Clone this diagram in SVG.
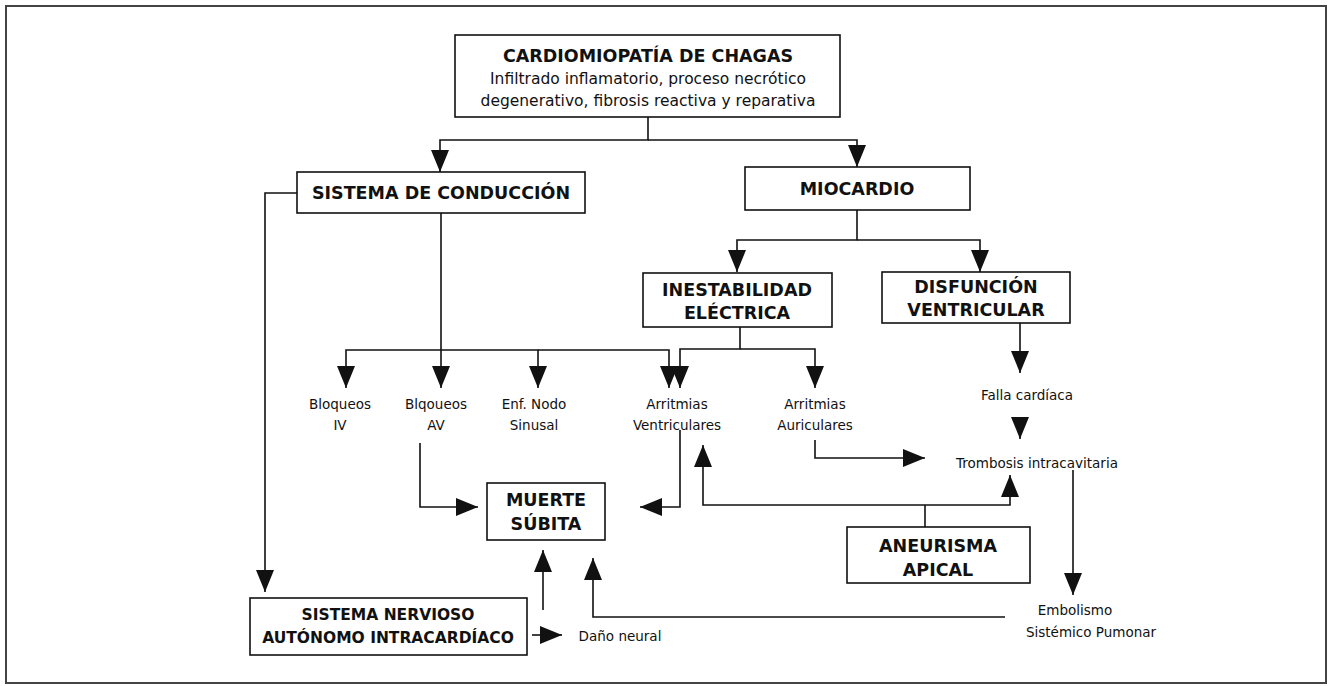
<svg xmlns="http://www.w3.org/2000/svg" width="1330" height="686" viewBox="0 0 1330 686">
<style>
.box{fill:#fff;stroke:#111;stroke-width:1.6}
.t{font-family:"Comic Sans MS","DejaVu Sans",sans-serif;font-weight:bold;font-size:17.5px;fill:#111;text-anchor:middle}
.t2{font-family:"Comic Sans MS","DejaVu Sans",sans-serif;font-weight:bold;font-size:15.5px;fill:#111;text-anchor:middle}
.s{font-family:"Comic Sans MS","DejaVu Sans",sans-serif;font-size:13.5px;fill:#111;text-anchor:middle}
.m{font-family:"Comic Sans MS","DejaVu Sans",sans-serif;font-size:15.5px;fill:#111;text-anchor:middle}
.c{fill:none;stroke:#111;stroke-width:1.6}
</style>
<defs>
<marker id="ah" markerUnits="userSpaceOnUse" markerWidth="22" markerHeight="18" refX="22" refY="9" orient="auto">
<path d="M0,0 L22,9 L0,18 z" fill="#111"/>
</marker>
</defs>
<rect x="0" y="0" width="1330" height="686" fill="#fff"/>
<rect x="6" y="6" width="1320" height="677" fill="none" stroke="#444" stroke-width="2"/>
<g id="connectors">
<path class="c" d="M648,117 V140 H440 V172" marker-end="url(#ah)"/>
<path class="c" d="M648,140 H857 V167" marker-end="url(#ah)"/>
<path class="c" d="M297,193 H265 V592" marker-end="url(#ah)"/>
<path class="c" d="M441,213 V388" marker-end="url(#ah)"/>
<path class="c" d="M857,210 V240 H737 V272" marker-end="url(#ah)"/>
<path class="c" d="M857,240 H980 V272" marker-end="url(#ah)"/>
<path class="c" d="M441,350 H346 V388" marker-end="url(#ah)"/>
<path class="c" d="M441,350 H538 V388" marker-end="url(#ah)"/>
<path class="c" d="M538,350 H669 V388" marker-end="url(#ah)"/>
<path class="c" d="M740,327 V349 H680 V388" marker-end="url(#ah)"/>
<path class="c" d="M740,349 H815 V388" marker-end="url(#ah)"/>
<path class="c" d="M1020,323 V373" marker-end="url(#ah)"/>
<path class="c" d="M1020,417 V439" marker-end="url(#ah)"/>
<path class="c" d="M815,440 V458 H925" marker-end="url(#ah)"/>
<path class="c" d="M1073,470 V595" marker-end="url(#ah)"/>
<path class="c" d="M420,443 V507 H478" marker-end="url(#ah)"/>
<path class="c" d="M680,430 V507 H640" marker-end="url(#ah)"/>
<path class="c" d="M925,527 V505"/>
<path class="c" d="M925,505 H703 V445" marker-end="url(#ah)"/>
<path class="c" d="M925,505 H1010 V475" marker-end="url(#ah)"/>
<path class="c" d="M543,610 V550" marker-end="url(#ah)"/>
<path class="c" d="M1005,617 H593 V558" marker-end="url(#ah)"/>
<path class="c" d="M532,635 H562" marker-end="url(#ah)"/>
</g>
<g id="n-chagas">
<rect class="box" x="455" y="35" width="385" height="82"/>
<text class="t" x="648" y="62">CARDIOMIOPATÍA DE CHAGAS</text>
<text class="m" x="648" y="84">Infiltrado inflamatorio, proceso necrótico</text>
<text class="m" x="648" y="106">degenerativo, fibrosis reactiva y reparativa</text>
</g>
<g id="n-conduccion">
<rect class="box" x="297" y="172" width="288" height="41"/>
<text class="t" x="441" y="199">SISTEMA DE CONDUCCIÓN</text>
</g>
<g id="n-miocardio">
<rect class="box" x="745" y="167" width="225" height="43"/>
<text class="t" x="857" y="195">MIOCARDIO</text>
</g>
<g id="n-inestabilidad">
<rect class="box" x="643" y="273" width="189" height="54"/>
<text class="t" x="737" y="296">INESTABILIDAD</text>
<text class="t" x="737" y="319">ELÉCTRICA</text>
</g>
<g id="n-disfuncion">
<rect class="box" x="882" y="272" width="188" height="51"/>
<text class="t" x="976" y="293">DISFUNCIÓN</text>
<text class="t" x="976" y="316">VENTRICULAR</text>
</g>
<g id="n-bloqueos-iv">
<text class="s" x="340" y="409">Bloqueos</text>
<text class="s" x="340" y="430">IV</text>
</g>
<g id="n-bloqueos-av">
<text class="s" x="436" y="409">Blqoueos</text>
<text class="s" x="436" y="430">AV</text>
</g>
<g id="n-nodo">
<text class="s" x="534" y="409">Enf. Nodo</text>
<text class="s" x="534" y="430">Sinusal</text>
</g>
<g id="n-arr-vent">
<text class="s" x="677" y="409">Arritmias</text>
<text class="s" x="677" y="430">Ventriculares</text>
</g>
<g id="n-arr-aur">
<text class="s" x="815" y="409">Arritmias</text>
<text class="s" x="815" y="430">Auriculares</text>
</g>
<g id="n-falla">
<text class="s" x="1027" y="400">Falla cardíaca</text>
</g>
<g id="n-trombosis">
<text class="s" x="1037" y="468">Trombosis intracavitaria</text>
</g>
<g id="n-muerte">
<rect class="box" x="487" y="483" width="118" height="57"/>
<text class="t" x="546" y="506">MUERTE</text>
<text class="t" x="546" y="530">SÚBITA</text>
</g>
<g id="n-aneurisma">
<rect class="box" x="847" y="527" width="183" height="56"/>
<text class="t" x="938" y="552">ANEURISMA</text>
<text class="t" x="938" y="576">APICAL</text>
</g>
<g id="n-sna">
<rect class="box" x="250" y="598" width="277" height="57"/>
<text class="t2" x="388" y="620">SISTEMA NERVIOSO</text>
<text class="t2" x="388" y="643">AUTÓNOMO INTRACARDÍACO</text>
</g>
<g id="n-dano">
<text class="s" x="620" y="641">Daño neural</text>
</g>
<g id="n-embolismo">
<text class="s" x="1075" y="615">Embolismo</text>
<text class="s" x="1091" y="637">Sistémico Pumonar</text>
</g>
</svg>
